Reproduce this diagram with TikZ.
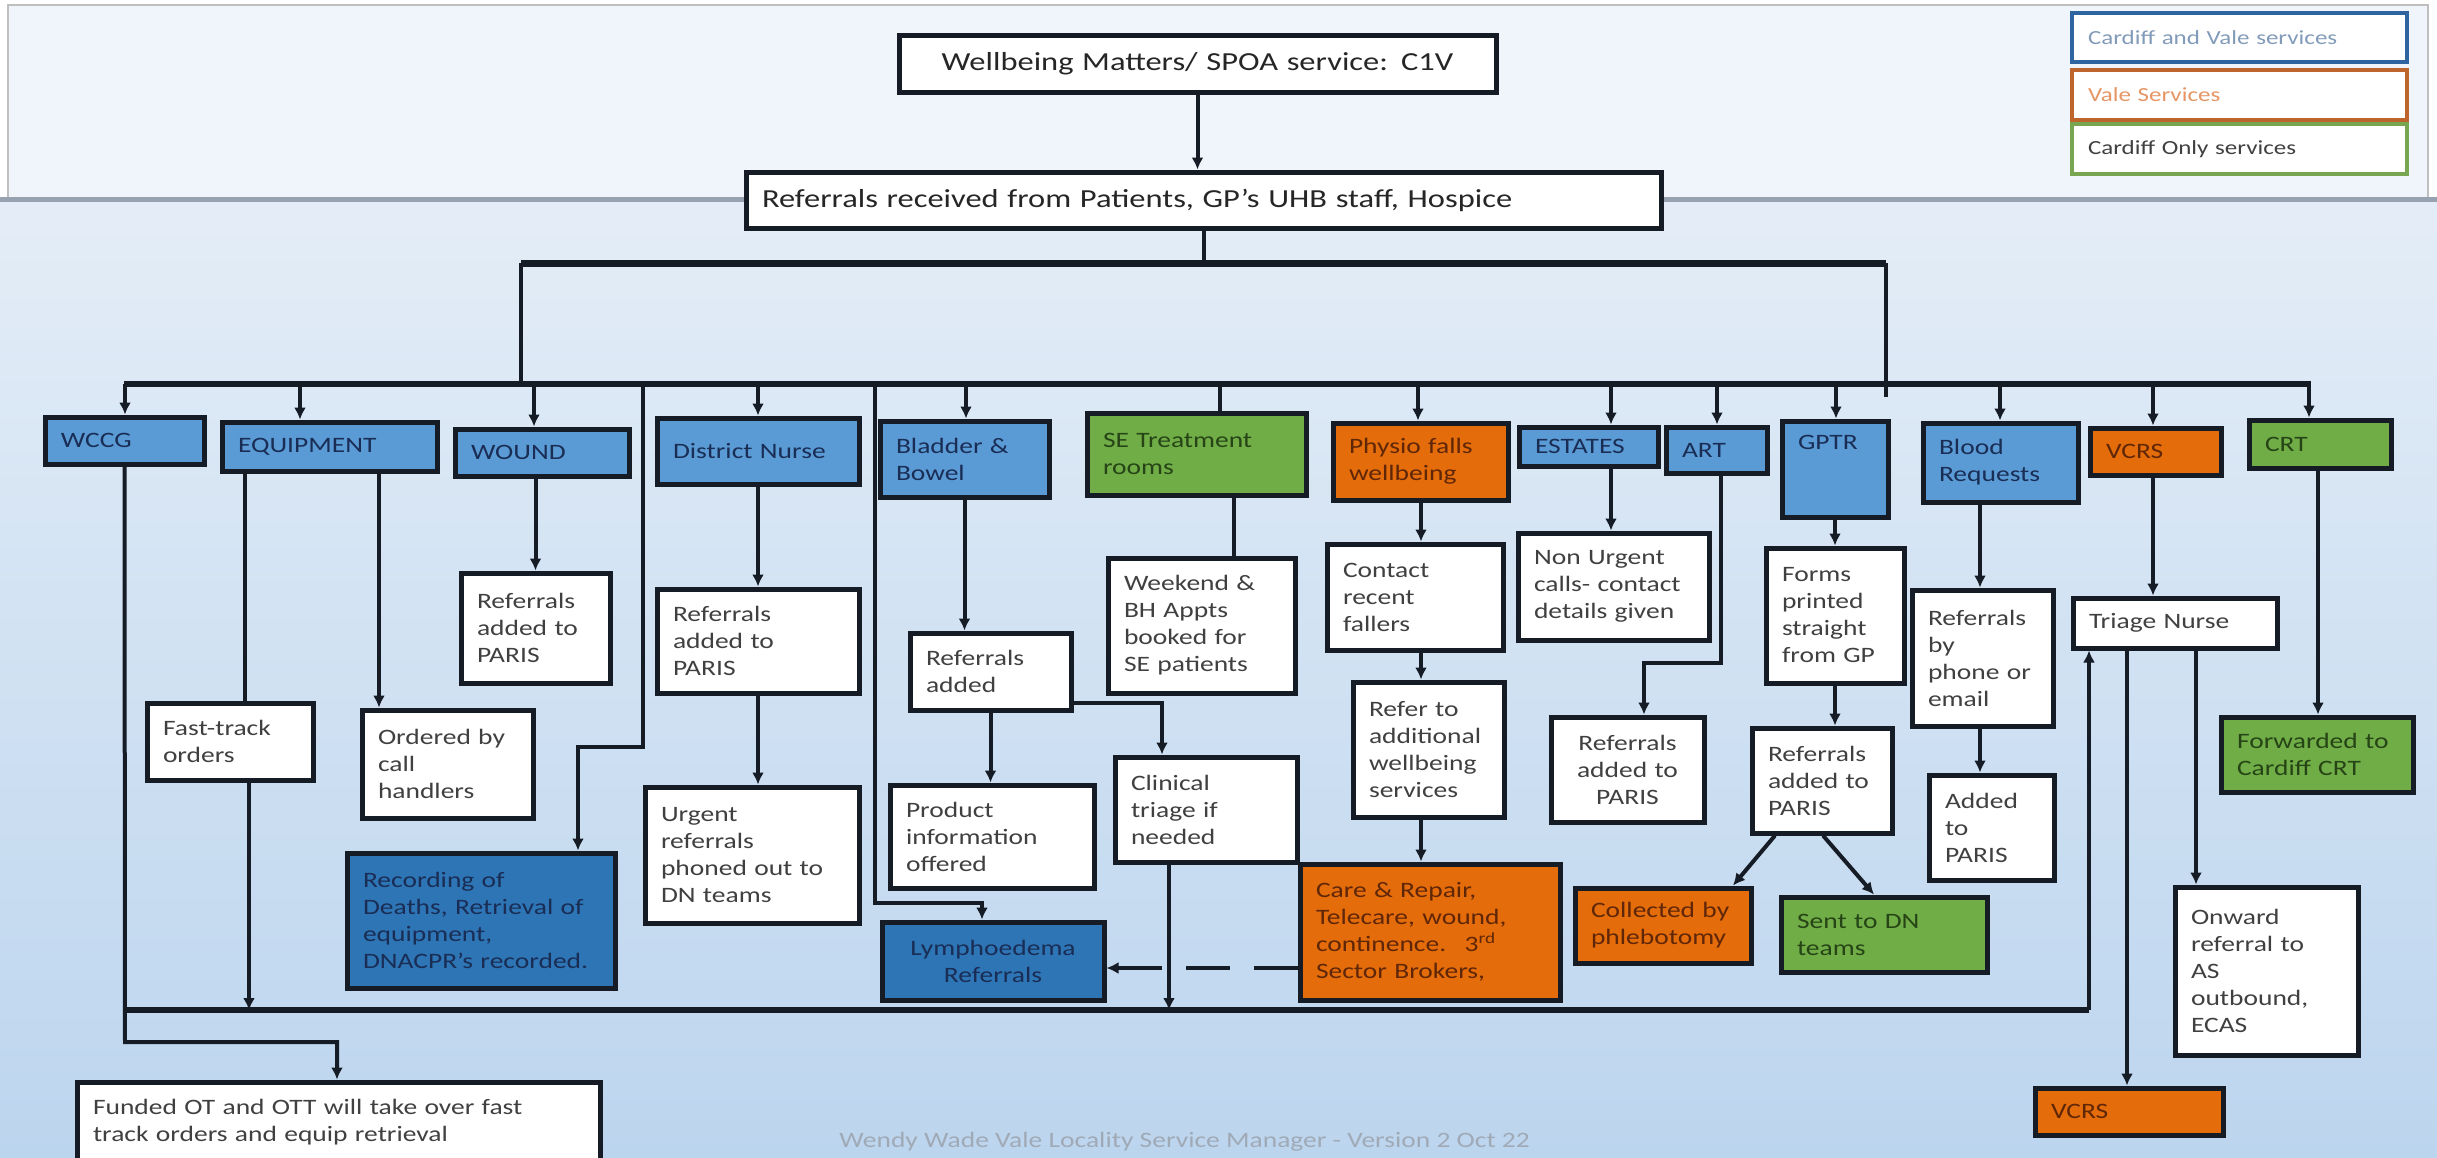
\documentclass[tikz,border=0pt]{standalone}
\usepackage{fontspec}
\setmainfont{Carlito}[FakeStretch=1.25]
\usetikzlibrary{arrows.meta}
\definecolor{cvblue}{RGB}{91,155,213}
\definecolor{dkblue}{RGB}{46,117,182}
\definecolor{vorange}{RGB}{228,108,10}
\definecolor{cgreen}{RGB}{112,173,71}
\definecolor{linec}{RGB}{22,28,38}
\definecolor{txtgrey}{RGB}{64,64,64}
\definecolor{navytxt}{RGB}{25,45,85}
\definecolor{browntxt}{RGB}{95,38,8}
\definecolor{greentxt}{RGB}{38,68,22}
\definecolor{bgtop}{RGB}{240,245,251}
\definecolor{bgA}{RGB}{228,237,247}
\definecolor{bgB}{RGB}{188,213,238}
\definecolor{sepgrey}{RGB}{150,162,175}
\definecolor{legblue}{RGB}{46,100,160}
\definecolor{legorange}{RGB}{190,100,45}
\definecolor{leggreen}{RGB}{120,165,80}
\definecolor{legbluetxt}{RGB}{130,155,185}
\definecolor{legorangetxt}{RGB}{230,150,100}
\definecolor{footgrey}{RGB}{160,170,182}
\newcommand\dgbox[7]{%
  \pgfmathsetmacro\bxw{(#5-#3)*0.5}%
  \pgfmathsetmacro\bxh{(#6-#4)*0.5}%
  \pgfmathsetmacro\bxtw{(#5-#3)*0.5-16}%
  \node[#1, minimum width=\bxw pt, minimum height=\bxh pt, text width=\bxtw pt] (#2) at ({(#3+#5)/2},{(#4+#6)/2}) {#7};}
\tikzset{
  box/.style={draw=linec, line width=2.5pt, inner xsep=8pt, inner ysep=1pt, align=left,
    font=\fontsize{11}{13.5}\selectfont, text=txtgrey, fill=white},
  bluebox/.style={box, fill=cvblue, text=navytxt},
  dbluebox/.style={box, fill=dkblue, text=navytxt},
  orbox/.style={box, fill=vorange, text=browntxt},
  grbox/.style={box, fill=cgreen, text=greentxt},
  legbox/.style={box, line width=2pt, fill=white, font=\fontsize{10}{12}\selectfont},
  conn/.style={draw=linec, line width=2pt},
  arr/.style={conn, -{Latex[length=6pt,width=6pt]}},
  busA/.style={draw=linec, line width=3.5pt},
  busB/.style={draw=linec, line width=2.6pt},
}
\begin{document}
\begin{tikzpicture}[x=0.5pt,y=-0.5pt]
\useasboundingbox (0,0) rectangle (2437,1157);
% background
\fill[white] (0,0) rectangle (2437,1157);
\shade[top color=bgA, bottom color=bgB] (0,199) rectangle (2437,1157);
\fill[bgtop, draw=gray!50, line width=1pt] (8,5) rectangle (2428,199);
\draw[sepgrey, line width=2.5pt] (0,199) -- (2437,199);

% legend
\dgbox{legbox, draw=legblue, text=legbluetxt}{leg1}{2072}{13}{2407}{62}{Cardiff and Vale services}
\dgbox{legbox, draw=legorange, text=legorangetxt}{leg2}{2072}{70}{2407}{120}{Vale Services}
\dgbox{legbox, draw=leggreen, text=black!75}{leg3}{2072}{124}{2407}{174}{Cardiff Only services}

% top boxes
\dgbox{box, align=center, text=black!85, font=\fontsize{13}{15}\selectfont}{title}{899}{35}{1496}{92}{Wellbeing Matters/ SPOA service: C1V}
\dgbox{box, text=black!85, font=\fontsize{13}{15}\selectfont}{refs}{746}{172}{1661}{228}{Referrals received from Patients, GP’s UHB staff, Hospice}

% header row
\dgbox{bluebox}{wccg}{45}{417}{204}{464}{WCCG}
\dgbox{bluebox}{equip}{222}{422}{437}{471}{EQUIPMENT}
\dgbox{bluebox}{wound}{455}{429}{629}{476}{WOUND}
\dgbox{bluebox}{dn}{657}{418}{859}{484}{District Nurse}
\dgbox{bluebox}{bb}{880}{421}{1049}{497}{Bladder \&\\Bowel}
\dgbox{grbox}{se}{1087}{413}{1306}{495}{SE Treatment\\rooms}
\dgbox{orbox}{physio}{1333}{423}{1508}{500}{Physio falls\\wellbeing}
\dgbox{bluebox}{estates}{1519}{427}{1658}{466}{ESTATES}
\dgbox{bluebox}{art}{1666}{427}{1767}{473}{ART}
\dgbox{bluebox}{gptr}{1782}{421}{1888}{517}{GPTR\\~\\~}
\dgbox{bluebox}{blood}{1923}{423}{2078}{502}{Blood\\Requests}
\dgbox{orbox}{vcrs}{2090}{428}{2221}{475}{VCRS}
\dgbox{grbox}{crt}{2249}{420}{2391}{468}{CRT}

% second level and below
\dgbox{box}{woundref}{461}{573}{610}{683}{Referrals\\added to\\PARIS}
\dgbox{box}{fast}{147}{703}{313}{780}{Fast-track\\orders}
\dgbox{box}{ordered}{362}{710}{533}{818}{Ordered by\\call\\handlers}
\dgbox{dbluebox}{recording}{347}{853}{615}{988}{Recording of\\Deaths, Retrieval of\\equipment,\\DNACPR’s recorded.}
\dgbox{box}{funded}{77}{1082}{600}{1162}{Funded OT and OTT will take over fast\\track orders and equip retrieval}
\dgbox{box}{dnref}{657}{589}{859}{693}{Referrals\\added to\\PARIS}
\dgbox{box}{urgent}{645}{787}{859}{923}{Urgent\\referrals\\phoned out to\\DN teams}
\dgbox{box}{bbref}{910}{633}{1071}{710}{Referrals\\added}
\dgbox{box}{product}{890}{785}{1094}{888}{Product\\information\\offered}
\dgbox{box}{clinical}{1115}{757}{1297}{862}{Clinical\\triage if\\needed}
\dgbox{dbluebox, align=center}{lymph}{882}{922}{1104}{1000}{Lymphoedema\\Referrals}
\dgbox{box}{weekend}{1108}{558}{1295}{693}{Weekend \&\\BH Appts\\booked for\\SE patients}
\dgbox{box}{contact}{1327}{544}{1503}{650}{Contact\\recent\\fallers}
\dgbox{box}{refer}{1353}{682}{1504}{817}{Refer to\\additional\\wellbeing\\services}
\dgbox{orbox}{care}{1300}{864}{1560}{1000}{Care \& Repair,\\Telecare, wound,\\continence.~ 3\textsuperscript{rd}\\Sector Brokers,}
\dgbox{box}{nonurgent}{1518}{533}{1709}{640}{Non Urgent\\calls- contact\\details given}
\dgbox{box, align=center}{artref}{1551}{717}{1704}{822}{Referrals\\added to\\PARIS}
\dgbox{box}{forms}{1766}{548}{1904}{683}{Forms\\printed\\straight\\from GP}
\dgbox{box}{gpref}{1752}{728}{1892}{833}{Referrals\\added to\\PARIS}
\dgbox{orbox}{collected}{1575}{888}{1751}{963}{Collected by\\phlebotomy}
\dgbox{grbox}{sentdn}{1781}{897}{1987}{972}{Sent to DN\\teams}
\dgbox{box}{phone}{1912}{590}{2053}{726}{Referrals\\by\\phone or\\email}
\dgbox{box}{added}{1929}{775}{2054}{880}{Added\\to\\PARIS}
\dgbox{box}{triage}{2073}{598}{2277}{648}{Triage Nurse}
\dgbox{grbox}{forwarded}{2221}{717}{2413}{792}{Forwarded to\\Cardiff CRT}
\dgbox{box}{onward}{2175}{887}{2358}{1055}{Onward\\referral to\\AS\\outbound,\\ECAS}
\dgbox{orbox}{vcrs2}{2035}{1088}{2223}{1135}{VCRS}

\node[font=\fontsize{11}{13}\selectfont, text=footgrey, anchor=west, inner sep=0pt] (footer) at (839,1142) {Wendy Wade Vale Locality Service Manager - Version 2 Oct 22};

% ---- coordinates for buses and line positions
\coordinate (ubL) at (521,263);
\coordinate (ubR) at (1886,263);
\coordinate (ubRend) at (1886,397);
\coordinate (lbL) at (124,384);
\coordinate (lbR) at (2311,384);
\coordinate (bWC) at (125,384);
\coordinate (bEQ) at (300,384);
\coordinate (bWO) at (534,384);
\coordinate (bRC) at (643,384);
\coordinate (bDN) at (758,384);
\coordinate (bLY) at (875,384);
\coordinate (bBB) at (966,384);
\coordinate (bSE) at (1220,384);
\coordinate (bPH) at (1418,384);
\coordinate (bES) at (1611,384);
\coordinate (bAR) at (1717,384);
\coordinate (bGP) at (1836,384);
\coordinate (bBL) at (2000,384);
\coordinate (bVC) at (2153,384);
\coordinate (bCR) at (2309,384);
\coordinate (botL) at (125,1010);
\coordinate (botR) at (2089,1010);
\coordinate (rc1) at (643,747);
\coordinate (rc2) at (578,747);
\coordinate (ly1) at (875,903);
\coordinate (ly2) at (982,903);
\coordinate (wc1) at (125,1042);
\coordinate (wc2) at (337,1042);
\coordinate (eqL) at (245,0);
\coordinate (eqR) at (379,0);
\coordinate (fx) at (249,0);
\coordinate (clx) at (1169,0);
\coordinate (cl1) at (1162,703);
\coordinate (lyA) at (0,968);
\coordinate (sex) at (1234,0);
\coordinate (phx) at (1421,0);
\coordinate (esx) at (1611,0);
\coordinate (ar1) at (1721,663);
\coordinate (ar2) at (1644,663);
\coordinate (gc1) at (1775,0);
\coordinate (gc2) at (1733,0);
\coordinate (gs1) at (1823,0);
\coordinate (gs2) at (1874,0);
\coordinate (blx) at (1980,0);
\coordinate (vcx) at (2153,0);
\coordinate (tvx) at (2127,0);
\coordinate (tox) at (2196,0);
\coordinate (crx) at (2318,0);

% ---- top connectors
\draw[arr] (title.south) -- (title.south |- refs.north);
\draw[conn] (refs.south) -- (refs.south |- ubL);
\draw[busA] (ubL) -- (ubR);
\draw[conn] (ubL) -- (ubL |- lbL);
\draw[conn] (ubR) -- (ubRend);
\draw[busB] (lbL) -- (lbR);

% ---- bus to headers
\draw[arr] (bWC) -- (bWC |- wccg.north);
\draw[arr] (bEQ) -- (bEQ |- equip.north);
\draw[arr] (bWO) -- (bWO |- wound.north);
\draw[arr] (bDN) -- (bDN |- dn.north);
\draw[arr] (bBB) -- (bBB |- bb.north);
\draw[conn] (bSE) -- (bSE |- se.north);
\draw[arr] (bPH) -- (bPH |- physio.north);
\draw[arr] (bES) -- (bES |- estates.north);
\draw[arr] (bAR) -- (bAR |- art.north);
\draw[arr] (bGP) -- (bGP |- gptr.north);
\draw[arr] (bBL) -- (bBL |- blood.north);
\draw[arr] (bVC) -- (bVC |- vcrs.north);
\draw[arr] (bCR) -- (bCR |- crt.north);

% ---- left part
\draw[arr] (bRC) -- (rc1) -- (rc2) -- (rc2 |- recording.north);
\draw[arr] (bLY) -- (ly1) -- (ly2) -- (ly2 |- lymph.north);
\draw[arr] (wccg.south) -- (wc1) -- (wc2) -- (wc2 |- funded.north);
\draw[conn] (equip.south -| eqL) -- (fast.north -| eqL);
\draw[arr] (equip.south -| eqR) -- (ordered.north -| eqR);
\draw[arr] (fast.south -| fx) -- (botL -| fx);
\draw[busB] (botL) -- (botR);
\draw[arr] (botR) -- (botR |- triage.south);
\draw[arr] (wound.south -| woundref.north) -- (woundref.north);
\draw[arr] (dn.south) -- (dnref.north);
\draw[arr] (dnref.south) -- (dnref.south |- urgent.north);
\draw[arr] (bb.south) -- (bb.south |- bbref.north);
\draw[arr] (bbref.south) -- (bbref.south |- product.north);
\draw[arr] (bbref.east |- cl1) -- (cl1) -- (cl1 |- clinical.north);
\draw[arr] (clinical.south -| clx) -- (botL -| clx);
\draw[arr, dash pattern=on 22pt off 12pt] (care.west |- lyA) -- (lymph.east |- lyA);

% ---- middle and right
\draw[conn] (se.south -| sex) -- (weekend.north -| sex);
\draw[arr] (physio.south -| phx) -- (contact.north -| phx);
\draw[arr] (contact.south -| phx) -- (refer.north -| phx);
\draw[arr] (refer.south -| phx) -- (care.north -| phx);
\draw[arr] (estates.south -| esx) -- (nonurgent.north -| esx);
\draw[arr] (art.south -| ar1) -- (ar1) -- (ar2) -- (ar2 |- artref.north);
\draw[arr] (gptr.south) -- (gptr.south |- forms.north);
\draw[arr] (forms.south) -- (forms.south |- gpref.north);
\draw[arr] (gpref.south -| gc1) -- (collected.north -| gc2);
\draw[arr] (gpref.south -| gs1) -- (sentdn.north -| gs2);
\draw[arr] (blood.south -| blx) -- (phone.north -| blx);
\draw[arr] (phone.south -| blx) -- (added.north -| blx);
\draw[arr] (vcrs.south -| vcx) -- (triage.north -| vcx);
\draw[arr] (triage.south -| tvx) -- (vcrs2.north -| tvx);
\draw[arr] (triage.south -| tox) -- (onward.north -| tox);
\draw[arr] (crt.south -| crx) -- (forwarded.north -| crx);
\end{tikzpicture}
\end{document}
